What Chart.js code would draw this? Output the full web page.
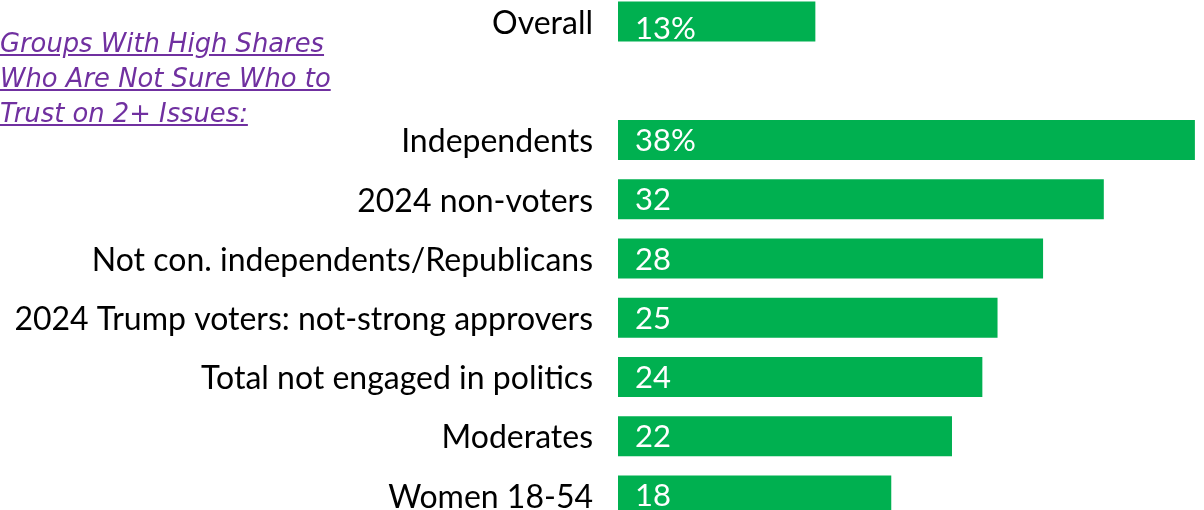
<!DOCTYPE html>
<html>
<head>
<meta charset="utf-8">
<script src="https://cdn.jsdelivr.net/npm/chart.js@4.4.1/dist/chart.umd.min.js"></script>
<style>
  html, body { margin: 0; padding: 0; background: #fff; overflow: hidden; }
  body { width: 1204px; height: 510px; position: relative; }
  #chart { position: absolute; left: 0; top: -8px; }
  #note {
    position: absolute; left: 0; top: 26px; z-index: 2;
    font: oblique 25.8px "DejaVu Sans", sans-serif; line-height: 35px;
    color: #7030a0; text-decoration: underline;
  }
</style>
</head>
<body>
<div id="note">Groups With High Shares<br>Who Are Not Sure Who to<br>Trust on 2+ Issues:</div>
<canvas id="chart" width="1204" height="533"></canvas>
<script>
/* global Chart */

const groups = [
  'Overall',
  '',
  'Independents',
  '2024 non-voters',
  'Not con. independents/Republicans',
  '2024 Trump voters: not-strong approvers',
  'Total not engaged in politics',
  'Moderates',
  'Women 18-54'
];
const shares = [13, null, 38, 32, 28, 25, 24, 22, 18];
const shareLabels = ['13%', '', '38%', '32', '28', '25', '24', '22', '18'];

// white value text near the start of each bar
const valueLabels = {
  id: 'valueLabels',
  afterDatasetsDraw(chart) {
    const ctx = chart.ctx;
    const meta = chart.getDatasetMeta(0);
    ctx.save();
    ctx.fillStyle = '#fff';
    ctx.font = '31px Lato, sans-serif';
    ctx.textAlign = 'left';
    ctx.textBaseline = 'middle';
    meta.data.forEach((bar, i) => {
      if (!shareLabels[i]) return;
      const left = Math.min(bar.base, bar.x);
      ctx.fillText(shareLabels[i], left + 17, bar.y + (i === 0 ? 7 : 1));
    });
    ctx.restore();
  }
};

new Chart(document.getElementById('chart'), {
  type: 'bar',
  data: {
    labels: groups,
    datasets: [{
      data: shares,
      backgroundColor: '#00b050',
      borderWidth: 0,
      categoryPercentage: 1,
      barPercentage: 0.675
    }]
  },
  options: {
    indexAxis: 'y',
    responsive: false,
    animation: false,
    layout: { padding: 0 },
    plugins: { legend: { display: false }, tooltip: { enabled: false } },
    scales: {
      x: { display: false, min: 0, max: 38.6 },
      y: {
        afterFit: (scale) => {
          scale.width = 618;
          scale.paddingTop = 0;
          scale.paddingBottom = 0;
        },
        grid: { display: false, drawTicks: false },
        border: { display: false },
        ticks: { color: '#000', padding: 25, labelOffset: 2, autoSkip: false, font: { family: 'Lato', size: 32 } }
      }
    }
  },
  plugins: [valueLabels]
});
</script>
</body>
</html>
